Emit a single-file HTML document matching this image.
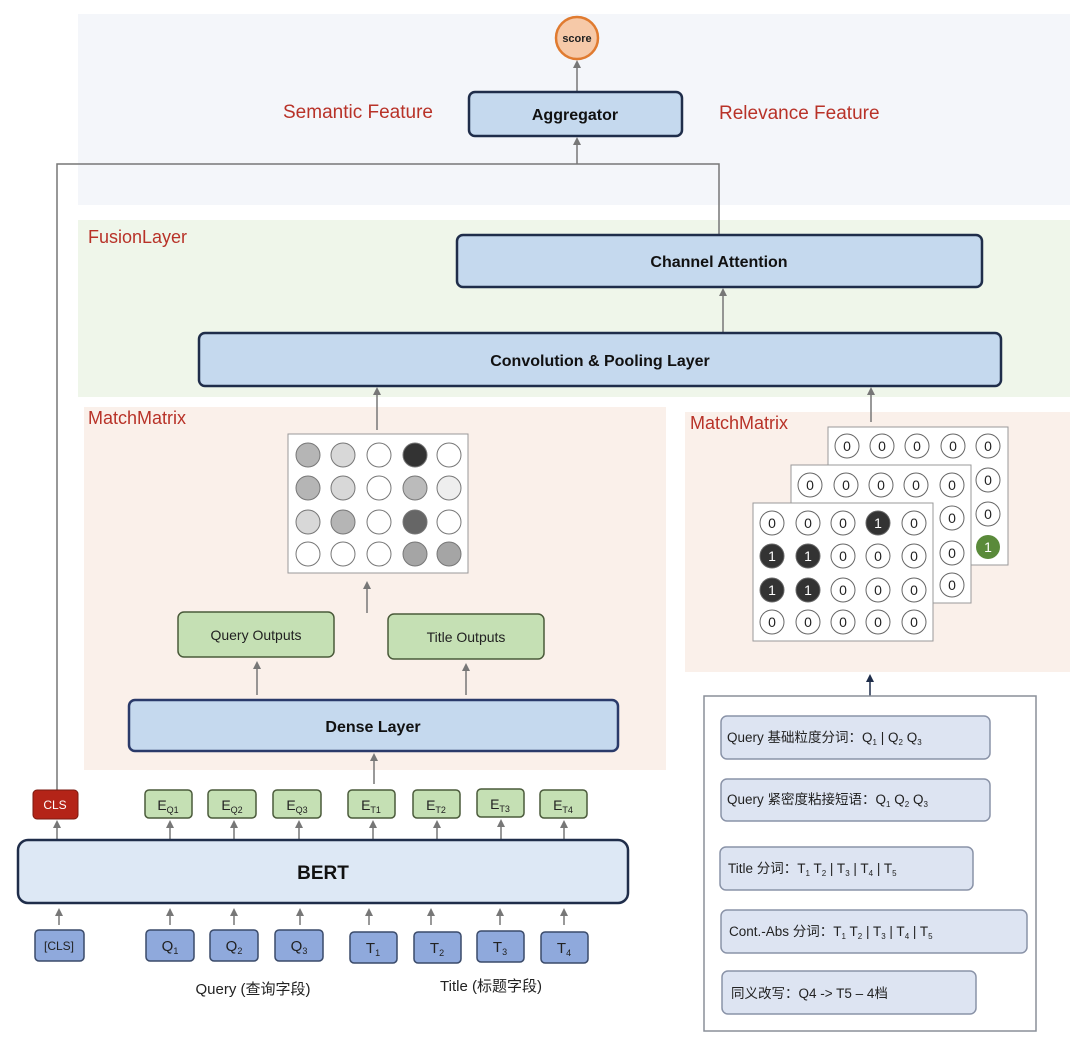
<!DOCTYPE html>
<html><head><meta charset="utf-8"><style>
html,body{margin:0;padding:0;background:#fff;}
svg{display:block;}
text{font-family:"Liberation Sans","Noto Sans CJK SC",sans-serif;}
</style></head><body>
<svg width="1080" height="1040" viewBox="0 0 1080 1040" xmlns="http://www.w3.org/2000/svg">
<defs>
<marker id="ar" markerWidth="8" markerHeight="8" refX="4" refY="4" orient="auto" markerUnits="userSpaceOnUse"><path d="M0,0 L8,4 L0,8 z" fill="#777"/></marker>
<marker id="arn" markerWidth="8" markerHeight="8" refX="4" refY="4" orient="auto" markerUnits="userSpaceOnUse"><path d="M0,0 L8,4 L0,8 z" fill="#1f2d4a"/></marker>
</defs>
<!-- backgrounds -->
<rect x="78" y="14" width="992" height="191" fill="#f4f6fa"/>
<rect x="78" y="220" width="992" height="177" fill="#eff6ea"/>
<rect x="84" y="407" width="582" height="363" fill="#faf0ea"/>
<rect x="685" y="412" width="385" height="260" fill="#faf0ea"/>

<!-- labels -->
<text x="283" y="118" font-size="19" fill="#b83228">Semantic Feature</text>
<text x="719" y="119" font-size="19" fill="#b83228">Relevance Feature</text>
<text x="88" y="243" font-size="18" fill="#b83228">FusionLayer</text>
<text x="88" y="424" font-size="18" fill="#b83228">MatchMatrix</text>
<text x="690" y="429" font-size="18" fill="#b83228">MatchMatrix</text>

<!-- score -->
<circle cx="577" cy="38" r="21" fill="#f6c9a8" stroke="#e07b30" stroke-width="2.5"/>
<text x="577" y="42" font-size="11" font-weight="bold" text-anchor="middle" fill="#222">score</text>
<line x1="577" y1="92" x2="577" y2="64" stroke="#777" stroke-width="1.5" marker-end="url(#ar)"/>

<!-- aggregator -->
<rect x="469" y="92" width="213" height="44" rx="6" fill="#c5d9ee" stroke="#1f2d4a" stroke-width="2.5"/>
<text x="575" y="120" font-size="16" font-weight="bold" text-anchor="middle" fill="#111">Aggregator</text>

<!-- connectors -->
<polyline points="57,790 57,164 719,164 719,235" fill="none" stroke="#777" stroke-width="1.5"/>
<line x1="577" y1="164" x2="577" y2="141" stroke="#777" stroke-width="1.5" marker-end="url(#ar)"/>

<!-- channel attention -->
<rect x="457" y="235" width="525" height="52" rx="6" fill="#c5d9ee" stroke="#1f2d4a" stroke-width="2.5"/>
<text x="719" y="267" font-size="16" font-weight="bold" text-anchor="middle" fill="#111">Channel Attention</text>
<line x1="723" y1="333" x2="723" y2="292" stroke="#777" stroke-width="1.5" marker-end="url(#ar)"/>

<!-- conv -->
<rect x="199" y="333" width="802" height="53" rx="6" fill="#c5d9ee" stroke="#1f2d4a" stroke-width="2.5"/>
<text x="600" y="366" font-size="16" font-weight="bold" text-anchor="middle" fill="#111">Convolution &amp; Pooling Layer</text>
<line x1="377" y1="430" x2="377" y2="391" stroke="#777" stroke-width="1.5" marker-end="url(#ar)"/>
<line x1="871" y1="422" x2="871" y2="391" stroke="#777" stroke-width="1.5" marker-end="url(#ar)"/>

<!-- left matrix -->
<rect x="288" y="434" width="180" height="139" fill="#fff" stroke="#999" stroke-width="1"/>
<g stroke="#777" stroke-width="1">
<circle cx="308" cy="455" r="12" fill="#b5b5b5"/><circle cx="343" cy="455" r="12" fill="#d8d8d8"/><circle cx="379" cy="455" r="12" fill="#fff"/><circle cx="415" cy="455" r="12" fill="#333"/><circle cx="449" cy="455" r="12" fill="#fff"/>
<circle cx="308" cy="488" r="12" fill="#b5b5b5"/><circle cx="343" cy="488" r="12" fill="#d8d8d8"/><circle cx="379" cy="488" r="12" fill="#fff"/><circle cx="415" cy="488" r="12" fill="#bbb"/><circle cx="449" cy="488" r="12" fill="#eee"/>
<circle cx="308" cy="522" r="12" fill="#d8d8d8"/><circle cx="343" cy="522" r="12" fill="#b5b5b5"/><circle cx="379" cy="522" r="12" fill="#fff"/><circle cx="415" cy="522" r="12" fill="#666"/><circle cx="449" cy="522" r="12" fill="#fff"/>
<circle cx="308" cy="554" r="12" fill="#fff"/><circle cx="343" cy="554" r="12" fill="#fff"/><circle cx="379" cy="554" r="12" fill="#fff"/><circle cx="415" cy="554" r="12" fill="#a5a5a5"/><circle cx="449" cy="554" r="12" fill="#a5a5a5"/>
</g>
<line x1="367" y1="613" x2="367" y2="585" stroke="#777" stroke-width="1.5" marker-end="url(#ar)"/>

<!-- outputs -->
<rect x="178" y="612" width="156" height="45" rx="6" fill="#c5e0b4" stroke="#4a5a3a" stroke-width="1.5"/>
<text x="256" y="640" font-size="14" text-anchor="middle" fill="#222">Query Outputs</text>
<rect x="388" y="614" width="156" height="45" rx="6" fill="#c5e0b4" stroke="#4a5a3a" stroke-width="1.5"/>
<text x="466" y="642" font-size="14" text-anchor="middle" fill="#222">Title Outputs</text>
<line x1="257" y1="695" x2="257" y2="665" stroke="#777" stroke-width="1.5" marker-end="url(#ar)"/>
<line x1="466" y1="695" x2="466" y2="667" stroke="#777" stroke-width="1.5" marker-end="url(#ar)"/>

<!-- dense -->
<rect x="129" y="700" width="489" height="51" rx="6" fill="#c5d9ee" stroke="#2a3a6a" stroke-width="2.5"/>
<text x="373" y="732" font-size="16" font-weight="bold" text-anchor="middle" fill="#111">Dense Layer</text>
<line x1="374" y1="784" x2="374" y2="757" stroke="#777" stroke-width="1.5" marker-end="url(#ar)"/>

<!-- E boxes -->
<rect x="33" y="790" width="45" height="29" rx="4" fill="#b42418" stroke="#7a1a10" stroke-width="1"/>
<text x="55" y="809" font-size="12" text-anchor="middle" fill="#fff">CLS</text>
<g fill="#c5e0b4" stroke="#4a5a3a" stroke-width="1.5">
<rect x="145" y="790" width="47" height="28" rx="4"/><rect x="208" y="790" width="48" height="28" rx="4"/><rect x="273" y="790" width="48" height="28" rx="4"/>
<rect x="348" y="790" width="47" height="28" rx="4"/><rect x="413" y="790" width="47" height="28" rx="4"/><rect x="477" y="789" width="47" height="28" rx="4"/><rect x="540" y="790" width="47" height="28" rx="4"/>
</g>
<g font-size="14" fill="#222" text-anchor="middle">
<text x="168" y="810">E<tspan font-size="9" dy="3">Q1</tspan></text>
<text x="232" y="810">E<tspan font-size="9" dy="3">Q2</tspan></text>
<text x="297" y="810">E<tspan font-size="9" dy="3">Q3</tspan></text>
<text x="371" y="810">E<tspan font-size="9" dy="3">T1</tspan></text>
<text x="436" y="810">E<tspan font-size="9" dy="3">T2</tspan></text>
<text x="500" y="809">E<tspan font-size="9" dy="3">T3</tspan></text>
<text x="563" y="810">E<tspan font-size="9" dy="3">T4</tspan></text>
</g>
<g stroke="#777" stroke-width="1.5">
<line x1="57" y1="840" x2="57" y2="824" marker-end="url(#ar)"/>
<line x1="170" y1="840" x2="170" y2="824" marker-end="url(#ar)"/>
<line x1="234" y1="840" x2="234" y2="824" marker-end="url(#ar)"/>
<line x1="299" y1="840" x2="299" y2="824" marker-end="url(#ar)"/>
<line x1="373" y1="840" x2="373" y2="824" marker-end="url(#ar)"/>
<line x1="437" y1="840" x2="437" y2="824" marker-end="url(#ar)"/>
<line x1="501" y1="840" x2="501" y2="823" marker-end="url(#ar)"/>
<line x1="564" y1="840" x2="564" y2="824" marker-end="url(#ar)"/>
</g>

<!-- BERT -->
<rect x="18" y="840" width="610" height="63" rx="10" fill="#dde8f5" stroke="#1f2d4a" stroke-width="2.5"/>
<text x="323" y="879" font-size="19" font-weight="bold" text-anchor="middle" fill="#111">BERT</text>

<g stroke="#777" stroke-width="1.5">
<line x1="59" y1="925" x2="59" y2="912" marker-end="url(#ar)"/>
<line x1="170" y1="925" x2="170" y2="912" marker-end="url(#ar)"/>
<line x1="234" y1="925" x2="234" y2="912" marker-end="url(#ar)"/>
<line x1="300" y1="925" x2="300" y2="912" marker-end="url(#ar)"/>
<line x1="369" y1="925" x2="369" y2="912" marker-end="url(#ar)"/>
<line x1="431" y1="925" x2="431" y2="912" marker-end="url(#ar)"/>
<line x1="500" y1="925" x2="500" y2="912" marker-end="url(#ar)"/>
<line x1="564" y1="925" x2="564" y2="912" marker-end="url(#ar)"/>
</g>
<g fill="#8fa9dc" stroke="#3a4a6a" stroke-width="1.5">
<rect x="35" y="930" width="49" height="31" rx="4"/>
<rect x="146" y="930" width="48" height="31" rx="4"/><rect x="210" y="930" width="48" height="31" rx="4"/><rect x="275" y="930" width="48" height="31" rx="4"/>
<rect x="350" y="932" width="47" height="31" rx="4"/><rect x="414" y="932" width="47" height="31" rx="4"/><rect x="477" y="931" width="47" height="31" rx="4"/><rect x="541" y="932" width="47" height="31" rx="4"/>
</g>
<g font-size="15" fill="#222" text-anchor="middle">
<text x="59" y="950" font-size="12">[CLS]</text>
<text x="170" y="951">Q<tspan font-size="9" dy="3">1</tspan></text>
<text x="234" y="951">Q<tspan font-size="9" dy="3">2</tspan></text>
<text x="299" y="951">Q<tspan font-size="9" dy="3">3</tspan></text>
<text x="373" y="953">T<tspan font-size="9" dy="3">1</tspan></text>
<text x="437" y="953">T<tspan font-size="9" dy="3">2</tspan></text>
<text x="500" y="952">T<tspan font-size="9" dy="3">3</tspan></text>
<text x="564" y="953">T<tspan font-size="9" dy="3">4</tspan></text>
</g>
<text x="253" y="994" font-size="15" text-anchor="middle" fill="#222">Query (查询字段)</text>
<text x="491" y="991" font-size="15" text-anchor="middle" fill="#222">Title (标题字段)</text>

<!-- right stacked matrices -->
<g font-size="14" text-anchor="middle">
<rect x="828" y="427" width="180" height="138" fill="#fff" stroke="#999"/>
<g fill="#fff" stroke="#666">
<circle cx="847" cy="446" r="12"/><circle cx="882" cy="446" r="12"/><circle cx="917" cy="446" r="12"/><circle cx="953" cy="446" r="12"/><circle cx="988" cy="446" r="12"/>
<circle cx="988" cy="480" r="12"/><circle cx="988" cy="514" r="12"/>
</g>
<circle cx="988" cy="547" r="12" fill="#5a8a3a"/>
<g fill="#222"><text x="847" y="451">0</text><text x="882" y="451">0</text><text x="917" y="451">0</text><text x="953" y="451">0</text><text x="988" y="451">0</text><text x="988" y="485">0</text><text x="988" y="519">0</text></g>
<text x="988" y="552" fill="#fff">1</text>

<rect x="791" y="465" width="180" height="138" fill="#fff" stroke="#999"/>
<g fill="#fff" stroke="#666">
<circle cx="810" cy="485" r="12"/><circle cx="846" cy="485" r="12"/><circle cx="881" cy="485" r="12"/><circle cx="916" cy="485" r="12"/><circle cx="952" cy="485" r="12"/>
<circle cx="952" cy="518" r="12"/><circle cx="952" cy="553" r="12"/><circle cx="952" cy="585" r="12"/>
</g>
<g fill="#222"><text x="810" y="490">0</text><text x="846" y="490">0</text><text x="881" y="490">0</text><text x="916" y="490">0</text><text x="952" y="490">0</text><text x="952" y="523">0</text><text x="952" y="558">0</text><text x="952" y="590">0</text></g>

<rect x="753" y="503" width="180" height="138" fill="#fff" stroke="#999"/>
<g stroke="#666">
<circle cx="772" cy="523" r="12" fill="#fff"/><circle cx="808" cy="523" r="12" fill="#fff"/><circle cx="843" cy="523" r="12" fill="#fff"/><circle cx="878" cy="523" r="12" fill="#333"/><circle cx="914" cy="523" r="12" fill="#fff"/>
<circle cx="772" cy="556" r="12" fill="#333"/><circle cx="808" cy="556" r="12" fill="#333"/><circle cx="843" cy="556" r="12" fill="#fff"/><circle cx="878" cy="556" r="12" fill="#fff"/><circle cx="914" cy="556" r="12" fill="#fff"/>
<circle cx="772" cy="590" r="12" fill="#333"/><circle cx="808" cy="590" r="12" fill="#333"/><circle cx="843" cy="590" r="12" fill="#fff"/><circle cx="878" cy="590" r="12" fill="#fff"/><circle cx="914" cy="590" r="12" fill="#fff"/>
<circle cx="772" cy="622" r="12" fill="#fff"/><circle cx="808" cy="622" r="12" fill="#fff"/><circle cx="843" cy="622" r="12" fill="#fff"/><circle cx="878" cy="622" r="12" fill="#fff"/><circle cx="914" cy="622" r="12" fill="#fff"/>
</g>
<g fill="#222">
<text x="772" y="528">0</text><text x="808" y="528">0</text><text x="843" y="528">0</text><text x="878" y="528" fill="#fff">1</text><text x="914" y="528">0</text>
<text x="772" y="561" fill="#fff">1</text><text x="808" y="561" fill="#fff">1</text><text x="843" y="561">0</text><text x="878" y="561">0</text><text x="914" y="561">0</text>
<text x="772" y="595" fill="#fff">1</text><text x="808" y="595" fill="#fff">1</text><text x="843" y="595">0</text><text x="878" y="595">0</text><text x="914" y="595">0</text>
<text x="772" y="627">0</text><text x="808" y="627">0</text><text x="843" y="627">0</text><text x="878" y="627">0</text><text x="914" y="627">0</text>
</g>
</g>
<line x1="870" y1="696" x2="870" y2="678" stroke="#1f2d4a" stroke-width="1.5" marker-end="url(#arn)"/>

<!-- segmentation box -->
<rect x="704" y="696" width="332" height="335" fill="#fff" stroke="#8a8f99" stroke-width="1.5"/>
<g fill="#dde4f2" stroke="#8a93a8" stroke-width="1.5">
<rect x="721" y="716" width="269" height="43" rx="6"/>
<rect x="721" y="779" width="269" height="42" rx="6"/>
<rect x="720" y="847" width="253" height="43" rx="6"/>
<rect x="721" y="910" width="306" height="43" rx="6"/>
<rect x="722" y="971" width="254" height="43" rx="6"/>
</g>
<g font-size="13.5" fill="#222">
<text x="727" y="742">Query 基础粒度分词：Q<tspan font-size="8" dy="3">1</tspan><tspan dy="-3"> | Q</tspan><tspan font-size="8" dy="3">2</tspan><tspan dy="-3"> Q</tspan><tspan font-size="8" dy="3">3</tspan></text>
<text x="727" y="804">Query 紧密度粘接短语：Q<tspan font-size="8" dy="3">1</tspan><tspan dy="-3"> Q</tspan><tspan font-size="8" dy="3">2</tspan><tspan dy="-3"> Q</tspan><tspan font-size="8" dy="3">3</tspan></text>
<text x="728" y="873">Title 分词：T<tspan font-size="8" dy="3">1</tspan><tspan dy="-3"> T</tspan><tspan font-size="8" dy="3">2</tspan><tspan dy="-3"> |  T</tspan><tspan font-size="8" dy="3">3</tspan><tspan dy="-3">  |  T</tspan><tspan font-size="8" dy="3">4</tspan><tspan dy="-3"> |  T</tspan><tspan font-size="8" dy="3">5</tspan></text>
<text x="729" y="936">Cont.-Abs 分词：T<tspan font-size="8" dy="3">1</tspan><tspan dy="-3"> T</tspan><tspan font-size="8" dy="3">2</tspan><tspan dy="-3"> |  T</tspan><tspan font-size="8" dy="3">3</tspan><tspan dy="-3">  |  T</tspan><tspan font-size="8" dy="3">4</tspan><tspan dy="-3"> |  T</tspan><tspan font-size="8" dy="3">5</tspan></text>
<text x="731" y="998">同义改写：Q4 -&gt; T5 – 4档</text>
</g>
</svg>
</body></html>
